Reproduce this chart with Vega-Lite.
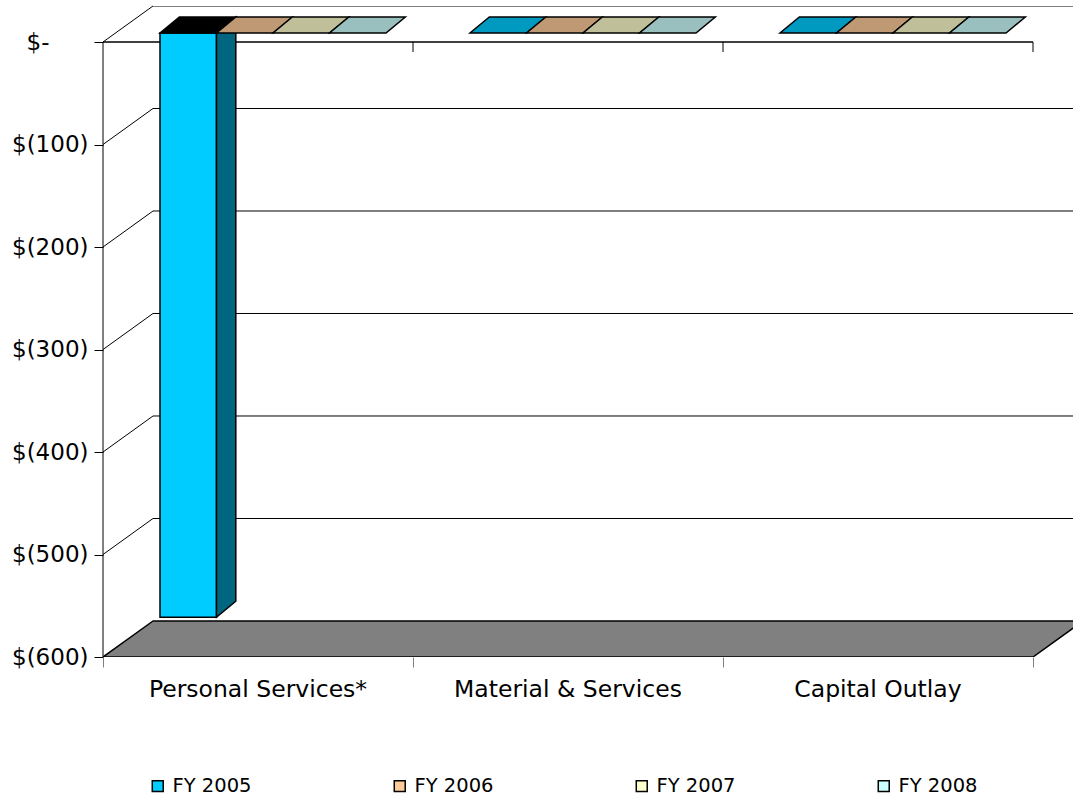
{
  "$schema": "https://vega.github.io/schema/vega-lite/v6.json",
  "description": "Budget change by expense category, FY 2005 to FY 2008, drawn as a 3-D clustered column chart. x runs in category widths (one unit per category); y runs in dollars. The box depth is 0.16129 category widths across and 35.122 dollars up; the columns sit between depth offsets 8.78 and 24.39 dollars.",
  "width": 970,
  "height": 651,
  "autosize": "none",
  "padding": {"left": 103, "top": 6, "right": 0, "bottom": 139},
  "background": "#ffffff",
  "config": {"view": {"stroke": null}, "font": "DejaVu Sans"},
  "datasets": {
    "budget": [
      {"category": "Personal Services*", "series": "FY 2005", "value": -570},
      {"category": "Personal Services*", "series": "FY 2006", "value": 0},
      {"category": "Personal Services*", "series": "FY 2007", "value": 0},
      {"category": "Personal Services*", "series": "FY 2008", "value": 0},
      {"category": "Material & Services", "series": "FY 2005", "value": 0},
      {"category": "Material & Services", "series": "FY 2006", "value": 0},
      {"category": "Material & Services", "series": "FY 2007", "value": 0},
      {"category": "Material & Services", "series": "FY 2008", "value": 0},
      {"category": "Capital Outlay", "series": "FY 2005", "value": 0},
      {"category": "Capital Outlay", "series": "FY 2006", "value": 0},
      {"category": "Capital Outlay", "series": "FY 2007", "value": 0},
      {"category": "Capital Outlay", "series": "FY 2008", "value": 0}
    ],
    "gridValues": [{"v": 0}, {"v": -100}, {"v": -200}, {"v": -300}, {"v": -400}, {"v": -500}],
    "floorEdges": [{"depth": 0}, {"depth": 1}]
  },
  "layer": [
    {
      "description": "Gridlines across the left side wall",
      "data": {"name": "gridValues"},
      "transform": [
        {"calculate": "datum.v + 35.122", "as": "vb"},
        {"calculate": "0", "as": "wx0"},
        {"calculate": "0.16129", "as": "wx1"}
      ],
      "mark": {"type": "rule", "stroke": "#000000", "strokeWidth": 1},
      "encoding": {
        "x": {"field": "wx0", "type": "quantitative", "scale": {"domain": [0, 3.129], "nice": false, "zero": false},
              "axis": {"orient": "bottom", "values": [0, 1, 2, 3], "labels": false, "domain": false, "grid": false, "ticks": true, "tickSize": 10, "tickColor": "#808080", "tickWidth": 1, "title": null}},
        "x2": {"field": "wx1"},
        "y": {"field": "v", "type": "quantitative", "scale": {"domain": [-600, 35.122], "nice": false, "zero": false},
              "axis": {"orient": "left", "values": [0, -100, -200, -300, -400, -500, -600], "title": null, "domain": false, "grid": false, "ticks": true, "tickSize": 9, "tickColor": "#000000", "tickWidth": 1, "labelFont": "DejaVu Sans", "labelFontSize": 23, "labelColor": "#000000", "labelPadding": {"condition": {"test": "datum.value == 0", "value": 45}, "value": 6}, "labelExpr": "datum.value == 0 ? '$-' : '$(' + abs(datum.value) + ')'"}},
        "y2": {"field": "vb"}
      }
    },
    {
      "description": "Gridlines across the back wall",
      "data": {"name": "gridValues"},
      "transform": [
        {"calculate": "datum.v + 35.122", "as": "vb"},
        {"calculate": "0.16129", "as": "wx1"},
        {"calculate": "3.16129", "as": "wx2"}
      ],
      "mark": {"type": "rule", "stroke": "#000000", "strokeWidth": 1, "clip": true},
      "encoding": {
        "x": {"field": "wx1", "type": "quantitative", "scale": {"domain": [0, 3.129], "nice": false, "zero": false},
              "axis": {"orient": "bottom", "values": [0, 1, 2, 3], "labels": false, "domain": false, "grid": false, "ticks": true, "tickSize": 10, "tickColor": "#808080", "tickWidth": 1, "title": null}},
        "x2": {"field": "wx2"},
        "y": {"field": "vb", "type": "quantitative", "scale": {"domain": [-600, 35.122], "nice": false, "zero": false},
              "axis": {"orient": "left", "values": [0, -100, -200, -300, -400, -500, -600], "title": null, "domain": false, "grid": false, "ticks": true, "tickSize": 9, "tickColor": "#000000", "tickWidth": 1, "labelFont": "DejaVu Sans", "labelFontSize": 23, "labelColor": "#000000", "labelPadding": {"condition": {"test": "datum.value == 0", "value": 45}, "value": 6}, "labelExpr": "datum.value == 0 ? '$-' : '$(' + abs(datum.value) + ')'"}}
      }
    },
    {
      "description": "Grey floor at the bottom of the value range",
      "data": {"name": "floorEdges"},
      "transform": [
        {"calculate": "-600 + datum.depth * 35.122", "as": "fy"},
        {"calculate": "datum.depth * 0.16129", "as": "fx0"},
        {"calculate": "3 + datum.depth * 0.16129", "as": "fx1"}
      ],
      "mark": {"type": "area", "orient": "horizontal", "fill": "#808080", "stroke": "#000000", "strokeWidth": 1.5, "clip": true},
      "encoding": {
        "y": {"field": "fy", "type": "quantitative", "scale": {"domain": [-600, 35.122], "nice": false, "zero": false},
              "axis": {"orient": "left", "values": [0, -100, -200, -300, -400, -500, -600], "title": null, "domain": false, "grid": false, "ticks": true, "tickSize": 9, "tickColor": "#000000", "tickWidth": 1, "labelFont": "DejaVu Sans", "labelFontSize": 23, "labelColor": "#000000", "labelPadding": {"condition": {"test": "datum.value == 0", "value": 45}, "value": 6}, "labelExpr": "datum.value == 0 ? '$-' : '$(' + abs(datum.value) + ')'"}},
        "x": {"field": "fx0", "type": "quantitative", "scale": {"domain": [0, 3.129], "nice": false, "zero": false},
              "axis": {"orient": "bottom", "values": [0, 1, 2, 3], "labels": false, "domain": false, "grid": false, "ticks": true, "tickSize": 10, "tickColor": "#808080", "tickWidth": 1, "title": null}},
        "x2": {"field": "fx1"}
      }
    },
    {
      "description": "Front vertical axis line, one segment per grid interval",
      "data": {"name": "gridValues"},
      "transform": [
        {"calculate": "datum.v - 100", "as": "vn"},
        {"calculate": "0", "as": "ax"}
      ],
      "mark": {"type": "rule", "stroke": "#000000", "strokeWidth": 1},
      "encoding": {
        "x": {"field": "ax", "type": "quantitative", "scale": {"domain": [0, 3.129], "nice": false, "zero": false},
              "axis": {"orient": "bottom", "values": [0, 1, 2, 3], "labels": false, "domain": false, "grid": false, "ticks": true, "tickSize": 10, "tickColor": "#808080", "tickWidth": 1, "title": null}},
        "y": {"field": "v", "type": "quantitative", "scale": {"domain": [-600, 35.122], "nice": false, "zero": false},
              "axis": {"orient": "left", "values": [0, -100, -200, -300, -400, -500, -600], "title": null, "domain": false, "grid": false, "ticks": true, "tickSize": 9, "tickColor": "#000000", "tickWidth": 1, "labelFont": "DejaVu Sans", "labelFontSize": 23, "labelColor": "#000000", "labelPadding": {"condition": {"test": "datum.value == 0", "value": 45}, "value": 6}, "labelExpr": "datum.value == 0 ? '$-' : '$(' + abs(datum.value) + ')'"}},
        "y2": {"field": "vn"}
      }
    },
    {
      "description": "Category axis at zero, one segment per category",
      "data": {"name": "budget"},
      "transform": [
        {"aggregate": [{"op": "count", "as": "n"}], "groupby": ["category"]},
        {"calculate": "indexof(['Personal Services*', 'Material & Services', 'Capital Outlay'], datum.category)", "as": "ci"},
        {"calculate": "datum.ci + 1", "as": "ce"},
        {"calculate": "0", "as": "zero"}
      ],
      "mark": {"type": "rule", "stroke": "#000000", "strokeWidth": 1.5},
      "encoding": {
        "x": {"field": "ci", "type": "quantitative", "scale": {"domain": [0, 3.129], "nice": false, "zero": false},
              "axis": {"orient": "bottom", "values": [0, 1, 2, 3], "labels": false, "domain": false, "grid": false, "ticks": true, "tickSize": 10, "tickColor": "#808080", "tickWidth": 1, "title": null}},
        "x2": {"field": "ce"},
        "y": {"field": "zero", "type": "quantitative", "scale": {"domain": [-600, 35.122], "nice": false, "zero": false},
              "axis": {"orient": "left", "values": [0, -100, -200, -300, -400, -500, -600], "title": null, "domain": false, "grid": false, "ticks": true, "tickSize": 9, "tickColor": "#000000", "tickWidth": 1, "labelFont": "DejaVu Sans", "labelFontSize": 23, "labelColor": "#000000", "labelPadding": {"condition": {"test": "datum.value == 0", "value": 45}, "value": 6}, "labelExpr": "datum.value == 0 ? '$-' : '$(' + abs(datum.value) + ')'"}}
      }
    },
    {
      "description": "Category tick marks hanging from the zero axis",
      "data": {"name": "budget"},
      "transform": [
        {"aggregate": [{"op": "count", "as": "n"}], "groupby": ["category"]},
        {"calculate": "indexof(['Personal Services*', 'Material & Services', 'Capital Outlay'], datum.category) + 1", "as": "ce"},
        {"calculate": "0", "as": "zero"},
        {"calculate": "-9.76", "as": "tickEnd"}
      ],
      "mark": {"type": "rule", "stroke": "#000000", "strokeWidth": 1},
      "encoding": {
        "x": {"field": "ce", "type": "quantitative", "scale": {"domain": [0, 3.129], "nice": false, "zero": false},
              "axis": {"orient": "bottom", "values": [0, 1, 2, 3], "labels": false, "domain": false, "grid": false, "ticks": true, "tickSize": 10, "tickColor": "#808080", "tickWidth": 1, "title": null}},
        "y": {"field": "zero", "type": "quantitative", "scale": {"domain": [-600, 35.122], "nice": false, "zero": false},
              "axis": {"orient": "left", "values": [0, -100, -200, -300, -400, -500, -600], "title": null, "domain": false, "grid": false, "ticks": true, "tickSize": 9, "tickColor": "#000000", "tickWidth": 1, "labelFont": "DejaVu Sans", "labelFontSize": 23, "labelColor": "#000000", "labelPadding": {"condition": {"test": "datum.value == 0", "value": 45}, "value": 6}, "labelExpr": "datum.value == 0 ? '$-' : '$(' + abs(datum.value) + ')'"}},
        "y2": {"field": "tickEnd"}
      }
    },
    {
      "description": "Front faces of the columns",
      "data": {"name": "budget"},
      "transform": [
        {"filter": "datum.value < 0"},
        {"calculate": "indexof(['Personal Services*', 'Material & Services', 'Capital Outlay'], datum.category)", "as": "ci"},
        {"calculate": "indexof(['FY 2005', 'FY 2006', 'FY 2007', 'FY 2008'], datum.series)", "as": "si"},
        {"calculate": "datum.ci + 0.18387 + datum.si * 0.18226", "as": "x0"},
        {"calculate": "datum.x0 + 0.18226", "as": "x1"},
        {"calculate": "8.78", "as": "yt"},
        {"calculate": "datum.value + 8.78", "as": "yb"}
      ],
      "mark": {"type": "rect", "stroke": "#000000", "strokeWidth": 1.5},
      "encoding": {
        "x": {"field": "x0", "type": "quantitative", "scale": {"domain": [0, 3.129], "nice": false, "zero": false},
              "axis": {"orient": "bottom", "values": [0, 1, 2, 3], "labels": false, "domain": false, "grid": false, "ticks": true, "tickSize": 10, "tickColor": "#808080", "tickWidth": 1, "title": null}},
        "x2": {"field": "x1"},
        "y": {"field": "yt", "type": "quantitative", "scale": {"domain": [-600, 35.122], "nice": false, "zero": false},
              "axis": {"orient": "left", "values": [0, -100, -200, -300, -400, -500, -600], "title": null, "domain": false, "grid": false, "ticks": true, "tickSize": 9, "tickColor": "#000000", "tickWidth": 1, "labelFont": "DejaVu Sans", "labelFontSize": 23, "labelColor": "#000000", "labelPadding": {"condition": {"test": "datum.value == 0", "value": 45}, "value": 6}, "labelExpr": "datum.value == 0 ? '$-' : '$(' + abs(datum.value) + ')'"}},
        "y2": {"field": "yb"},
        "color": {
          "field": "series", "type": "nominal",
          "scale": {"domain": ["FY 2005", "FY 2006", "FY 2007", "FY 2008"], "range": ["#00CCFF", "#FFCC99", "#FFFFCC", "#CCFFFF"]},
          "legend": {
            "orient": "none", "legendX": 45, "legendY": 770,
            "direction": "horizontal", "columns": 4, "title": null, "padding": 0,
            "symbolType": "square", "symbolSize": 120, "symbolStrokeColor": "#000000", "symbolStrokeWidth": 1.5,
            "labelFont": "DejaVu Sans", "labelFontSize": 19.5, "labelColor": "#000000", "labelOffset": 5,
            "columnPadding": 138, "labelLimit": 200
          }
        }
      }
    },
    {
      "description": "Right-hand side faces of the columns, in a half shade of each series colour",
      "data": {"name": "budget"},
      "transform": [
        {"filter": "datum.value < 0"},
        {"calculate": "indexof(['Personal Services*', 'Material & Services', 'Capital Outlay'], datum.category)", "as": "ci"},
        {"calculate": "indexof(['FY 2005', 'FY 2006', 'FY 2007', 'FY 2008'], datum.series)", "as": "si"},
        {"calculate": "['#006680', '#806650', '#808066', '#668080'][datum.si]", "as": "sideShade"},
        {"calculate": "datum.ci + 0.18387 + datum.si * 0.18226 + 0.18226", "as": "x1"},
        {"calculate": "[datum.x1, datum.x1 + 0.06226]", "as": "sx"},
        {"calculate": "[8.78, 24.39]", "as": "st"},
        {"calculate": "[datum.value + 8.78, datum.value + 24.39]", "as": "sb"},
        {"flatten": ["sx", "st", "sb"]}
      ],
      "mark": {"type": "area", "stroke": "#000000", "strokeWidth": 1.5},
      "encoding": {
        "x": {"field": "sx", "type": "quantitative", "scale": {"domain": [0, 3.129], "nice": false, "zero": false},
              "axis": {"orient": "bottom", "values": [0, 1, 2, 3], "labels": false, "domain": false, "grid": false, "ticks": true, "tickSize": 10, "tickColor": "#808080", "tickWidth": 1, "title": null}},
        "y": {"field": "st", "type": "quantitative", "scale": {"domain": [-600, 35.122], "nice": false, "zero": false},
              "axis": {"orient": "left", "values": [0, -100, -200, -300, -400, -500, -600], "title": null, "domain": false, "grid": false, "ticks": true, "tickSize": 9, "tickColor": "#000000", "tickWidth": 1, "labelFont": "DejaVu Sans", "labelFontSize": 23, "labelColor": "#000000", "labelPadding": {"condition": {"test": "datum.value == 0", "value": 45}, "value": 6}, "labelExpr": "datum.value == 0 ? '$-' : '$(' + abs(datum.value) + ')'"}},
        "y2": {"field": "sb"},
        "detail": [{"field": "category", "type": "nominal"}, {"field": "series", "type": "nominal"}],
        "fill": {"field": "sideShade", "type": "nominal", "scale": null, "legend": null}
      }
    },
    {
      "description": "Top faces of the columns, in a three-quarter shade of each series colour",
      "data": {"name": "budget"},
      "transform": [
        {"calculate": "indexof(['Personal Services*', 'Material & Services', 'Capital Outlay'], datum.category)", "as": "ci"},
        {"calculate": "indexof(['FY 2005', 'FY 2006', 'FY 2007', 'FY 2008'], datum.series)", "as": "si"},
        {"calculate": "datum.value < 0 ? '#000000' : ['#0099BF', '#BF9973', '#BFBF99', '#99BFBF'][datum.si]", "as": "topShade"},
        {"calculate": "datum.ci + 0.18387 + datum.si * 0.18226", "as": "x0"},
        {"calculate": "datum.x0 + 0.18226", "as": "x1"},
        {"calculate": "[8.78, 24.39]", "as": "ty"},
        {"calculate": "[datum.x0, datum.x0 + 0.06226]", "as": "tx0"},
        {"calculate": "[datum.x1, datum.x1 + 0.06226]", "as": "tx1"},
        {"flatten": ["ty", "tx0", "tx1"]}
      ],
      "mark": {"type": "area", "orient": "horizontal", "stroke": "#000000", "strokeWidth": 1.5},
      "encoding": {
        "y": {"field": "ty", "type": "quantitative", "scale": {"domain": [-600, 35.122], "nice": false, "zero": false},
              "axis": {"orient": "left", "values": [0, -100, -200, -300, -400, -500, -600], "title": null, "domain": false, "grid": false, "ticks": true, "tickSize": 9, "tickColor": "#000000", "tickWidth": 1, "labelFont": "DejaVu Sans", "labelFontSize": 23, "labelColor": "#000000", "labelPadding": {"condition": {"test": "datum.value == 0", "value": 45}, "value": 6}, "labelExpr": "datum.value == 0 ? '$-' : '$(' + abs(datum.value) + ')'"}},
        "x": {"field": "tx0", "type": "quantitative", "scale": {"domain": [0, 3.129], "nice": false, "zero": false},
              "axis": {"orient": "bottom", "values": [0, 1, 2, 3], "labels": false, "domain": false, "grid": false, "ticks": true, "tickSize": 10, "tickColor": "#808080", "tickWidth": 1, "title": null}},
        "x2": {"field": "tx1"},
        "detail": [{"field": "category", "type": "nominal"}, {"field": "series", "type": "nominal"}],
        "fill": {"field": "topShade", "type": "nominal", "scale": null, "legend": null}
      }
    },
    {
      "description": "Category names under the floor",
      "data": {"name": "budget"},
      "transform": [
        {"aggregate": [{"op": "count", "as": "n"}], "groupby": ["category"]},
        {"calculate": "indexof(['Personal Services*', 'Material & Services', 'Capital Outlay'], datum.category) + 0.5", "as": "xc"},
        {"calculate": "-600", "as": "floorY"}
      ],
      "mark": {"type": "text", "font": "DejaVu Sans", "fontSize": 23.5, "color": "#000000", "baseline": "alphabetic", "align": "center", "dy": 40},
      "encoding": {
        "x": {"field": "xc", "type": "quantitative", "scale": {"domain": [0, 3.129], "nice": false, "zero": false},
              "axis": {"orient": "bottom", "values": [0, 1, 2, 3], "labels": false, "domain": false, "grid": false, "ticks": true, "tickSize": 10, "tickColor": "#808080", "tickWidth": 1, "title": null}},
        "y": {"field": "floorY", "type": "quantitative", "scale": {"domain": [-600, 35.122], "nice": false, "zero": false},
              "axis": {"orient": "left", "values": [0, -100, -200, -300, -400, -500, -600], "title": null, "domain": false, "grid": false, "ticks": true, "tickSize": 9, "tickColor": "#000000", "tickWidth": 1, "labelFont": "DejaVu Sans", "labelFontSize": 23, "labelColor": "#000000", "labelPadding": {"condition": {"test": "datum.value == 0", "value": 45}, "value": 6}, "labelExpr": "datum.value == 0 ? '$-' : '$(' + abs(datum.value) + ')'"}},
        "text": {"field": "category"}
      }
    }
  ]
}
